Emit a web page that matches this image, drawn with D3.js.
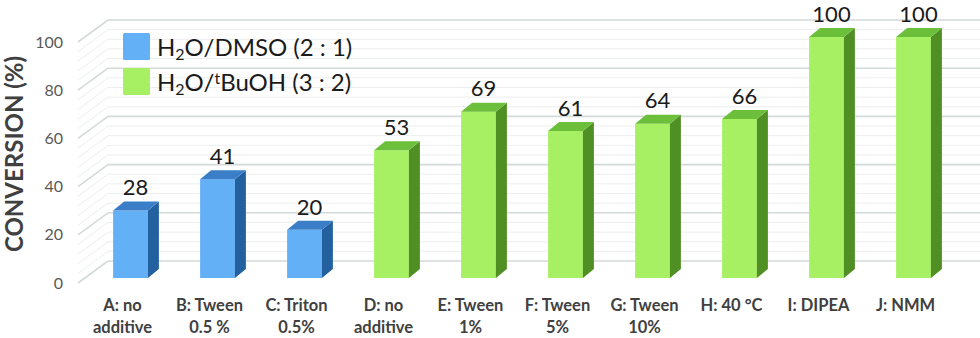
<!DOCTYPE html>
<html>
<head>
<meta charset="utf-8">
<script src="https://cdn.jsdelivr.net/npm/d3@7"></script>
<style>
  body { margin: 0; background: #fff; }
  svg { display: block; font-family: Lato, "Open Sans", sans-serif; }
</style>
</head>
<body>
<div id="chart"></div>
<script>
const categories = ['A: no|additive', 'B: Tween|0.5 %', 'C: Triton|0.5%', 'D: no|additive',
  'E: Tween|1%', 'F: Tween|5%', 'G: Tween|10%', 'H: 40 °C', 'I: DIPEA', 'J: NMM'];
const conversion = [28, 41, 20, 53, 69, 61, 64, 66, 100, 100];
const solvent = ['dmso', 'dmso', 'dmso', 'tbuoh', 'tbuoh', 'tbuoh', 'tbuoh', 'tbuoh', 'tbuoh', 'tbuoh'];
const yTicks = [0, 20, 40, 60, 80, 100];

const width = 980, height = 338;
const depth = { wallX: 30, wallY: -22, barX: 11, barY: -9, barLift: -5 };

const colors = {
  dmso:  { front: '#64b0f6', top: '#3b7ec8', side: '#22609f' },
  tbuoh: { front: '#a7f064', top: '#6cbf3a', side: '#4f8f24' }
};

const svg = d3.select('#chart').append('svg')
  .attr('width', width).attr('height', height);

const x = d3.scaleBand()
  .domain(categories)
  .range([87, 957])
  .paddingInner(0.6)
  .paddingOuter(0.3);

const y = d3.scaleLinear().domain([0, 100]).range([283, 42]);

// walls: slanted side lines + back wall lines, minor every 4, major every 20
const gridVals = d3.range(0, 101, 4);
const grid = svg.append('g');
gridVals.forEach(v => {
  const major = v % 20 === 0;
  const c = major ? '#d4d9d9' : '#ebeeee';
  const sw = major ? 1.6 : 1;
  grid.append('line')
    .attr('x1', 78).attr('y1', y(v))
    .attr('x2', 78 + depth.wallX).attr('y2', y(v) + depth.wallY)
    .attr('stroke', c).attr('stroke-width', sw);
  grid.append('line')
    .attr('x1', 78 + depth.wallX).attr('y1', y(v) + depth.wallY)
    .attr('x2', width).attr('y2', y(v) + depth.wallY)
    .attr('stroke', c).attr('stroke-width', sw);
});

// y tick labels
const yAxis = svg.append('g')
  .attr('transform', 'translate(69,0)')
  .call(d3.axisLeft(y).tickValues(yTicks).tickSize(0).tickPadding(6));
yAxis.select('.domain').remove();
yAxis.selectAll('text')
  .attr('font-family', 'Lato, "Open Sans", sans-serif')
  .attr('font-size', 16).attr('fill', '#595959');

// y title
svg.append('text')
  .attr('transform', 'translate(23,154) rotate(-90)')
  .attr('text-anchor', 'middle')
  .attr('font-size', 24).attr('font-weight', 'bold').attr('fill', '#404040')
  .text('CONVERSION (%)');

// 3D bars
const bw = x.bandwidth();
const y0 = y(0) + depth.barLift;
const bars = svg.append('g');
categories.forEach((cat, i) => {
  const v = conversion[i];
  const col = colors[solvent[i]];
  const x0 = x(cat);
  const yt = y(v) + depth.barLift;
  const g = bars.append('g');
  g.append('rect')
    .attr('x', x0).attr('y', yt).attr('width', bw).attr('height', y0 - yt)
    .attr('fill', col.front);
  g.append('path')
    .attr('d', `M${x0 + bw},${yt} L${x0 + bw + depth.barX},${yt + depth.barY} L${x0 + bw + depth.barX},${y0 + depth.barY} L${x0 + bw},${y0} Z`)
    .attr('fill', col.side);
  g.append('path')
    .attr('d', `M${x0},${yt} L${x0 + depth.barX},${yt + depth.barY} L${x0 + bw + depth.barX},${yt + depth.barY} L${x0 + bw},${yt} Z`)
    .attr('fill', col.top);
  g.append('text')
    .attr('x', x0 + bw / 2 + 5).attr('y', yt - 23)
    .attr('dy', '0.35em')
    .attr('text-anchor', 'middle')
    .attr('font-size', 22).attr('fill', '#1a1a1a')
    .text(v);
});

// category labels
const catG = svg.append('g');
categories.forEach(cat => {
  const lines = cat.split('|');
  const t = catG.append('text')
    .attr('x', x(cat) + bw / 2 - 8)
    .attr('y', 311)
    .attr('text-anchor', 'middle')
    .attr('font-size', 16.5).attr('font-weight', 'bold').attr('fill', '#404040');
  lines.forEach((ln, k) => {
    t.append('tspan')
      .attr('x', x(cat) + bw / 2 - 8)
      .attr('dy', k === 0 ? 0 : 22)
      .text(ln);
  });
});

// legend
const legend = svg.append('g');
const legItems = [
  { key: 'dmso', y: 33, parts: [['H', 0], ['2', 'sub'], ['O/DMSO (2 : 1)', 0]] },
  { key: 'tbuoh', y: 68, parts: [['H', 0], ['2', 'sub'], ['O/', 0], ['t', 'sup'], ['BuOH (3 : 2)', 0]] }
];
legItems.forEach(item => {
  legend.append('rect')
    .attr('x', 123).attr('y', item.y).attr('width', 27).attr('height', 27)
    .attr('rx', 1.5)
    .attr('fill', colors[item.key].front);
  const t = legend.append('text')
    .attr('x', 157).attr('y', item.y + 23)
    .attr('font-size', 24).attr('fill', '#1a1a1a');
  item.parts.forEach(([s, kind]) => {
    const ts = t.append('tspan').text(s);
    if (kind === 'sub') ts.attr('baseline-shift', '-25%').attr('font-size', 16);
    if (kind === 'sup') ts.attr('baseline-shift', '45%').attr('font-size', 16);
  });
});
</script>
</body>
</html>
